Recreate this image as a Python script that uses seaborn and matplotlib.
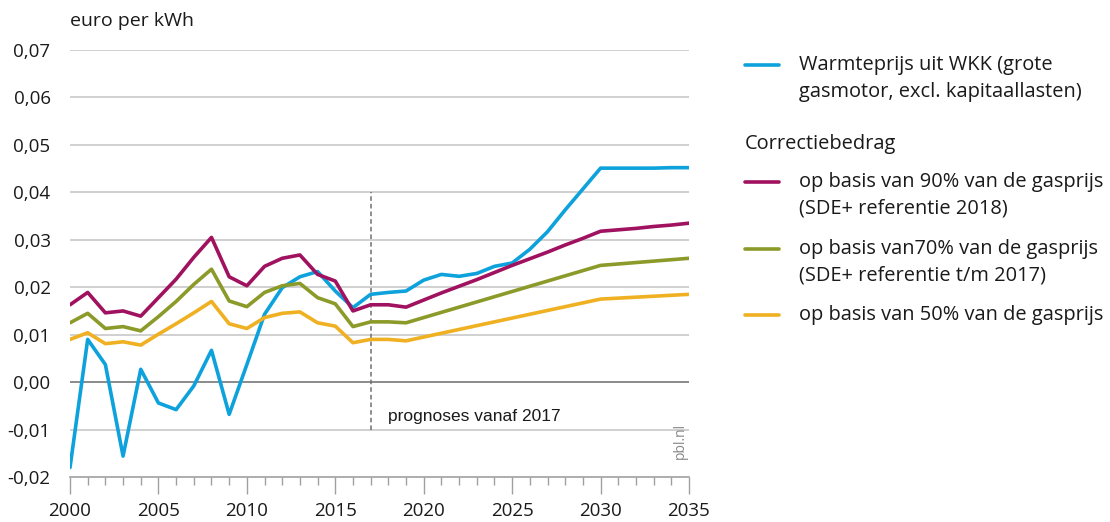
import numpy as np
import pandas as pd
import matplotlib
matplotlib.use("Agg")
import matplotlib.pyplot as plt
from matplotlib.lines import Line2D
from matplotlib.ticker import FuncFormatter, MultipleLocator
import seaborn as sns

years = list(range(2000, 2036))

warmteprijs = [-0.0180, 0.0090, 0.0037, -0.0156, 0.0027, -0.0044, -0.0058, -0.0008,
               0.0067, -0.0068, 0.0037, 0.0143, 0.0199, 0.0222, 0.0233, 0.0192,
               0.0157, 0.0185, 0.0189, 0.0192, 0.0215, 0.0227, 0.0223, 0.0229,
               0.0244, 0.0251, 0.0280, 0.0317, 0.0363, 0.0407, 0.0451, 0.0451,
               0.0451, 0.0451, 0.0452, 0.0452]
basis90 = [0.0163, 0.0189, 0.0146, 0.0150, 0.0139, 0.0178, 0.0217, 0.0263,
           0.0305, 0.0222, 0.0203, 0.0244, 0.0261, 0.0268, 0.0227, 0.0213,
           0.0150, 0.0163, 0.0163, 0.0158, 0.0173, 0.0188, 0.0202, 0.0216,
           0.0231, 0.0246, 0.0260, 0.0274, 0.0289, 0.0303, 0.0318, 0.0321,
           0.0324, 0.0328, 0.0331, 0.0335]
basis70 = [0.0125, 0.0145, 0.0113, 0.0117, 0.0108, 0.0138, 0.0170, 0.0206,
           0.0238, 0.0171, 0.0159, 0.0189, 0.0203, 0.0208, 0.0178, 0.0165,
           0.0117, 0.0127, 0.0127, 0.0125, 0.0136, 0.0147, 0.0158, 0.0169,
           0.0180, 0.0191, 0.0202, 0.0213, 0.0224, 0.0235, 0.0246, 0.0249,
           0.0252, 0.0255, 0.0258, 0.0261]
basis50 = [0.0090, 0.0104, 0.0081, 0.0085, 0.0078, 0.0101, 0.0123, 0.0146,
           0.0170, 0.0123, 0.0113, 0.0136, 0.0145, 0.0148, 0.0125, 0.0118,
           0.0083, 0.0090, 0.0090, 0.0087, 0.0095, 0.0103, 0.0111, 0.0119,
           0.0127, 0.0135, 0.0143, 0.0151, 0.0159, 0.0167, 0.0175, 0.0177,
           0.0179, 0.0181, 0.0183, 0.0185]

series_names = ["warm", "b90", "b70", "b50"]
series_labels = [
    "Warmteprijs uit WKK (grote\ngasmotor, excl. kapitaallasten)",
    "op basis van 90% van de gasprijs\n(SDE+ referentie 2018)",
    "op basis van70% van de gasprijs\n(SDE+ referentie t/m 2017)",
    "op basis van 50% van de gasprijs",
]
colors = ["#0EA2DC", "#A0125F", "#8C9A29", "#EFB022"]
yticks = [-0.02, -0.01, 0.0, 0.01, 0.02, 0.03, 0.04, 0.05, 0.06, 0.07]
xticks = [2000, 2005, 2010, 2015, 2020, 2025, 2030, 2035]

df = pd.DataFrame({"year": years * 4,
                   "value": warmteprijs + basis90 + basis70 + basis50,
                   "series": sum([[n] * len(years) for n in series_names], [])})

sns.set_theme(style="white")
plt.rcParams["font.family"] = ["Open Sans", "DejaVu Sans"]

fig = plt.figure(figsize=(11.10, 5.22), dpi=100)
ax = fig.add_axes([70 / 1110, 45 / 522, 619 / 1110, 427 / 522])

for yv in yticks:
    if yv == 0.0:
        ax.axhline(yv, color="#8a8a8a", lw=1.4, zorder=1)
    elif yv != -0.02:
        ax.axhline(yv, color="#d0d0d0", lw=1.4, zorder=1)

sns.lineplot(data=df, x="year", y="value", hue="series", hue_order=series_names,
             palette=colors, linewidth=2.6, legend=False, ax=ax, zorder=3)

ax.vlines(2017, -0.01, 0.04, colors="#707070", linestyles=(0, (3, 2)), lw=1.1, zorder=2)
ax.text(2018, -0.0072, "prognoses vanaf 2017", fontsize=12.5, family="Liberation Sans",
        color="#1a1a1a", va="center", ha="left")
ax.text(2034.5, -0.0124, "pbl.nl", rotation=90, fontsize=10, color="#888888",
        va="center", ha="center")

ax.set_xlim(2000, 2035)
ax.set_ylim(-0.02, 0.07)
ax.set_xticks(xticks)
ax.xaxis.set_minor_locator(MultipleLocator(1))
ax.set_yticks(yticks)
ax.yaxis.set_major_formatter(FuncFormatter(lambda v, p: f"{v:.2f}".replace(".", ",").replace("−", "-")))
ax.tick_params(axis="y", left=False, length=0, pad=14, labelsize=13.5, labelcolor="#1a1a1a")
ax.tick_params(axis="x", which="major", bottom=True, length=12, width=1, color="#a0a0a0",
               direction="out", pad=6, labelsize=13.5, labelcolor="#1a1a1a")
ax.tick_params(axis="x", which="minor", bottom=True, length=6, width=1, color="#a0a0a0",
               direction="out")
for s in ["left", "right", "top"]:
    ax.spines[s].set_visible(False)
ax.spines["bottom"].set_color("#a0a0a0")
ax.spines["bottom"].set_linewidth(1.2)
ax.set_xlabel("")
ax.set_ylabel("")
ax.grid(False)

fig.text(70 / 1110, 1 - 21 / 522, "euro per kWh", fontsize=14, color="#1a1a1a",
         va="center", ha="left")

# legend (manual)
def handle(y_px, color):
    fig.add_artist(Line2D([745 / 1110, 779 / 1110], [1 - y_px / 522] * 2,
                          color=color, lw=2.6, transform=fig.transFigure))

def label(y_px, text, x_px=799):
    fig.text(x_px / 1110, 1 - y_px / 522, text, fontsize=14.4, color="#1a1a1a",
             va="top", ha="left", linespacing=1.45)

entries = [(65, 0), (182, 1), (249, 2), (315, 3)]
for y_px, i in entries:
    handle(y_px, colors[i])
    label(y_px - 10, series_labels[i])
fig.text(745 / 1110, 1 - 144 / 522, "Correctiebedrag", fontsize=14.4, color="#1a1a1a",
         va="center", ha="left")

fig.savefig("out.png", dpi=100)
